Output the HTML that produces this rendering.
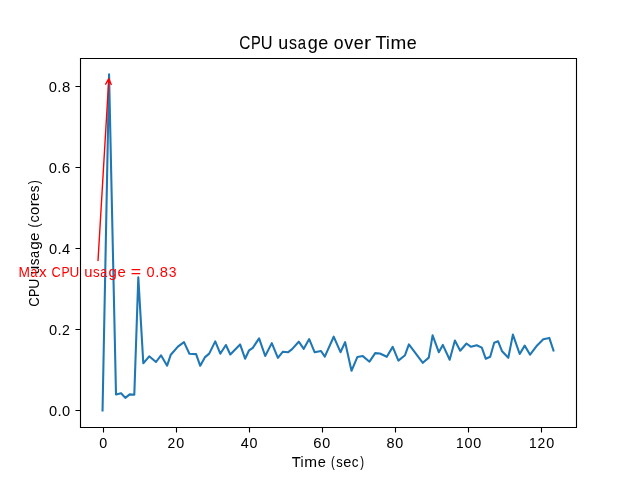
<!DOCTYPE html>
<html><head><meta charset="utf-8"><title>CPU usage over Time</title>
<style>html,body{margin:0;padding:0;background:#fff;overflow:hidden}svg{display:block}text{font-family:"Liberation Sans",sans-serif}</style>
</head><body>
<svg width="640" height="480" viewBox="0 0 640 480">
<rect width="640" height="480" fill="#fff"/>
<polyline points="102.55,410.40 109.06,74.40 116.00,394.50 121.10,393.30 125.30,397.90 129.70,394.40 134.30,394.70 138.30,277.30 143.30,363.30 149.20,356.30 156.00,362.00 161.00,355.30 167.10,365.70 170.80,354.70 177.90,346.60 184.00,342.10 189.40,353.70 196.10,354.10 200.25,365.80 204.80,357.40 209.20,353.60 215.25,341.40 220.30,353.70 225.90,345.00 230.30,354.50 240.10,344.40 245.10,358.70 249.10,350.30 252.80,347.80 259.10,338.30 265.20,356.00 271.80,343.10 277.90,357.80 282.90,351.70 287.90,352.30 292.10,349.10 298.75,341.70 303.75,348.80 309.20,339.10 314.70,352.30 321.00,351.00 324.80,356.60 333.70,336.70 340.50,352.20 345.10,342.10 351.50,370.80 357.30,357.10 362.80,356.10 369.50,361.70 375.20,353.10 379.90,353.50 386.80,356.80 392.70,346.90 398.40,360.60 405.00,355.20 408.90,344.40 422.80,362.80 428.80,357.60 432.60,335.40 438.80,352.20 442.80,344.90 449.70,359.70 454.90,340.60 460.20,350.70 466.50,343.50 471.00,346.80 476.70,345.20 481.80,347.60 485.80,358.80 490.20,356.70 494.20,342.80 498.10,341.30 502.10,351.30 508.30,357.80 512.90,334.60 519.70,354.00 524.70,345.60 530.10,354.70 537.10,345.40 543.30,339.30 549.30,337.90 553.47,350.50" fill="none" stroke="#1f77b4" stroke-width="2.0833" stroke-linejoin="round" stroke-linecap="square"/>
<path d="M80.5 427.5V58.5H576.5V427.5Z" fill="none" stroke="#000" stroke-width="1.1111" stroke-linejoin="miter"/>
<path d="M103.5 427V432.5 M176.5 427V432.5 M249.5 427V432.5 M322.5 427V432.5 M395.5 427V432.5 M468.5 427V432.5 M541.5 427V432.5 M75.5 86.5H81 M75.5 167.5H81 M75.5 248.5H81 M75.5 329.5H81 M75.5 410.5H81" fill="none" stroke="#000" stroke-width="1.1111"/>
<path d="M98.03 260.45L108.80 78.72M105.70 84.11L108.80 78.72L111.25 84.43" fill="none" stroke="#ff0000" stroke-width="1.3889" stroke-linecap="round" stroke-linejoin="round"/>
<defs><filter id="gs" color-interpolation-filters="sRGB"><feOffset dx="0" dy="0"/></filter></defs>
<g filter="url(#gs)">
<text y="49.27" font-size="18.542" fill="rgb(0,0,0)" stroke="rgb(0,0,0)" stroke-width="0.063"><tspan x="239.14" textLength="11.13" lengthAdjust="spacingAndGlyphs">C</tspan><tspan x="251.03" textLength="9.79" lengthAdjust="spacingAndGlyphs">P</tspan><tspan x="260.83" textLength="11.78" lengthAdjust="spacingAndGlyphs">U</tspan> <tspan x="278.36" textLength="9.95" lengthAdjust="spacingAndGlyphs">u</tspan><tspan x="289.11" textLength="7.95" lengthAdjust="spacingAndGlyphs">s</tspan><tspan x="297.69" textLength="8.30" lengthAdjust="spacingAndGlyphs">a</tspan><tspan x="307.68" textLength="10.03" lengthAdjust="spacingAndGlyphs">g</tspan><tspan x="318.24" textLength="9.97" lengthAdjust="spacingAndGlyphs">e</tspan> <tspan x="333.79" textLength="9.81" lengthAdjust="spacingAndGlyphs">o</tspan><tspan x="344.23" textLength="8.95" lengthAdjust="spacingAndGlyphs">v</tspan><tspan x="353.80" textLength="9.97" lengthAdjust="spacingAndGlyphs">e</tspan><tspan x="363.98" textLength="7.08" lengthAdjust="spacingAndGlyphs">r</tspan> <tspan x="375.56" textLength="11.06" lengthAdjust="spacingAndGlyphs">T</tspan><tspan x="386.09" textLength="3.77" lengthAdjust="spacingAndGlyphs">i</tspan><tspan x="390.55" textLength="15.75" lengthAdjust="spacingAndGlyphs">m</tspan><tspan x="406.66" textLength="9.97" lengthAdjust="spacingAndGlyphs">e</tspan></text>
<text y="466.87" font-size="14.549" fill="rgb(0,0,0)" stroke="rgb(0,0,0)" stroke-width="0.034"><tspan x="291.85" textLength="8.99" lengthAdjust="spacingAndGlyphs">T</tspan><tspan x="300.55" textLength="3.06" lengthAdjust="spacingAndGlyphs">i</tspan><tspan x="304.38" textLength="12.81" lengthAdjust="spacingAndGlyphs">m</tspan><tspan x="317.74" textLength="8.11" lengthAdjust="spacingAndGlyphs">e</tspan> <tspan x="330.96" textLength="3.80" lengthAdjust="spacingAndGlyphs">(</tspan><tspan x="336.31" textLength="6.47" lengthAdjust="spacingAndGlyphs">s</tspan><tspan x="343.30" textLength="8.11" lengthAdjust="spacingAndGlyphs">e</tspan><tspan x="351.85" textLength="6.77" lengthAdjust="spacingAndGlyphs">c</tspan><tspan x="360.29" textLength="3.80" lengthAdjust="spacingAndGlyphs">)</tspan></text>
<text y="-0.40" font-size="15.278" fill="rgb(0,0,0)" transform="translate(39.746 242.400) rotate(-90)"><tspan x="-64.45" textLength="9.44" lengthAdjust="spacingAndGlyphs">C</tspan><tspan x="-54.52" textLength="8.31" lengthAdjust="spacingAndGlyphs">P</tspan><tspan x="-46.37" textLength="10.00" lengthAdjust="spacingAndGlyphs">U</tspan> <tspan x="-31.74" textLength="8.45" lengthAdjust="spacingAndGlyphs">u</tspan><tspan x="-22.76" textLength="6.75" lengthAdjust="spacingAndGlyphs">s</tspan><tspan x="-15.61" textLength="7.04" lengthAdjust="spacingAndGlyphs">a</tspan><tspan x="-7.29" textLength="8.51" lengthAdjust="spacingAndGlyphs">g</tspan><tspan x="1.51" textLength="8.46" lengthAdjust="spacingAndGlyphs">e</tspan> <tspan x="14.83" textLength="3.96" lengthAdjust="spacingAndGlyphs">(</tspan><tspan x="19.93" textLength="7.07" lengthAdjust="spacingAndGlyphs">c</tspan><tspan x="27.52" textLength="8.33" lengthAdjust="spacingAndGlyphs">o</tspan><tspan x="35.95" textLength="6.01" lengthAdjust="spacingAndGlyphs">r</tspan><tspan x="41.39" textLength="8.46" lengthAdjust="spacingAndGlyphs">e</tspan><tspan x="50.19" textLength="6.75" lengthAdjust="spacingAndGlyphs">s</tspan><tspan x="58.10" textLength="3.96" lengthAdjust="spacingAndGlyphs">)</tspan></text>
<text y="277.15" font-size="15.451" fill="rgb(255,0,0)"><tspan x="18.50" textLength="11.45" lengthAdjust="spacingAndGlyphs">M</tspan><tspan x="30.53" textLength="6.90" lengthAdjust="spacingAndGlyphs">a</tspan><tspan x="38.95" textLength="7.65" lengthAdjust="spacingAndGlyphs">x</tspan> <tspan x="51.47" textLength="9.24" lengthAdjust="spacingAndGlyphs">C</tspan><tspan x="61.39" textLength="8.13" lengthAdjust="spacingAndGlyphs">P</tspan><tspan x="69.55" textLength="9.79" lengthAdjust="spacingAndGlyphs">U</tspan> <tspan x="84.16" textLength="8.27" lengthAdjust="spacingAndGlyphs">u</tspan><tspan x="93.12" textLength="6.61" lengthAdjust="spacingAndGlyphs">s</tspan><tspan x="100.27" textLength="6.90" lengthAdjust="spacingAndGlyphs">a</tspan><tspan x="108.61" textLength="8.33" lengthAdjust="spacingAndGlyphs">g</tspan><tspan x="117.41" textLength="8.28" lengthAdjust="spacingAndGlyphs">e</tspan> <tspan x="130.82" textLength="10.37" lengthAdjust="spacingAndGlyphs">=</tspan> <tspan x="146.59" textLength="8.08" lengthAdjust="spacingAndGlyphs">0</tspan><tspan x="155.18" textLength="4.15" lengthAdjust="spacingAndGlyphs">.</tspan><tspan x="159.79" textLength="8.17" lengthAdjust="spacingAndGlyphs">8</tspan><tspan x="168.83" textLength="7.76" lengthAdjust="spacingAndGlyphs">3</tspan></text>
<text y="447.88" font-size="14.896" fill="rgb(0,0,0)" stroke="rgb(0,0,0)" stroke-width="0.030"><tspan x="99.35" textLength="7.97" lengthAdjust="spacingAndGlyphs">0</tspan></text>
<text y="447.88" font-size="14.896" fill="rgb(0,0,0)" stroke="rgb(0,0,0)" stroke-width="0.030"><tspan x="167.57" textLength="7.69" lengthAdjust="spacingAndGlyphs">2</tspan><tspan x="176.35" textLength="7.97" lengthAdjust="spacingAndGlyphs">0</tspan></text>
<text y="447.88" font-size="14.896" fill="rgb(0,0,0)" stroke="rgb(0,0,0)" stroke-width="0.030"><tspan x="240.83" textLength="7.98" lengthAdjust="spacingAndGlyphs">4</tspan><tspan x="249.58" textLength="7.97" lengthAdjust="spacingAndGlyphs">0</tspan></text>
<text y="447.88" font-size="14.896" fill="rgb(0,0,0)" stroke="rgb(0,0,0)" stroke-width="0.030"><tspan x="313.32" textLength="8.25" lengthAdjust="spacingAndGlyphs">6</tspan><tspan x="322.21" textLength="7.97" lengthAdjust="spacingAndGlyphs">0</tspan></text>
<text y="447.88" font-size="14.896" fill="rgb(0,0,0)" stroke="rgb(0,0,0)" stroke-width="0.030"><tspan x="386.45" textLength="8.06" lengthAdjust="spacingAndGlyphs">8</tspan><tspan x="395.24" textLength="7.97" lengthAdjust="spacingAndGlyphs">0</tspan></text>
<text y="447.88" font-size="14.896" fill="rgb(0,0,0)" stroke="rgb(0,0,0)" stroke-width="0.030"><tspan x="455.90" textLength="7.65" lengthAdjust="spacingAndGlyphs">1</tspan><tspan x="464.57" textLength="8.01" lengthAdjust="spacingAndGlyphs">0</tspan><tspan x="473.36" textLength="8.01" lengthAdjust="spacingAndGlyphs">0</tspan></text>
<text y="447.88" font-size="14.896" fill="rgb(0,0,0)" stroke="rgb(0,0,0)" stroke-width="0.030"><tspan x="528.88" textLength="7.65" lengthAdjust="spacingAndGlyphs">1</tspan><tspan x="537.51" textLength="7.72" lengthAdjust="spacingAndGlyphs">2</tspan><tspan x="546.34" textLength="8.01" lengthAdjust="spacingAndGlyphs">0</tspan></text>
<text y="415.68" font-size="14.722" fill="rgb(0,0,0)"><tspan x="48.91" textLength="8.14" lengthAdjust="spacingAndGlyphs">0</tspan><tspan x="57.45" textLength="4.17" lengthAdjust="spacingAndGlyphs">.</tspan><tspan x="62.03" textLength="8.14" lengthAdjust="spacingAndGlyphs">0</tspan></text>
<text y="334.68" font-size="14.722" fill="rgb(0,0,0)"><tspan x="48.91" textLength="8.14" lengthAdjust="spacingAndGlyphs">0</tspan><tspan x="57.45" textLength="4.17" lengthAdjust="spacingAndGlyphs">.</tspan><tspan x="62.00" textLength="7.84" lengthAdjust="spacingAndGlyphs">2</tspan></text>
<text y="253.68" font-size="14.722" fill="rgb(0,0,0)"><tspan x="48.91" textLength="8.14" lengthAdjust="spacingAndGlyphs">0</tspan><tspan x="57.45" textLength="4.17" lengthAdjust="spacingAndGlyphs">.</tspan><tspan x="62.03" textLength="8.14" lengthAdjust="spacingAndGlyphs">4</tspan></text>
<text y="172.68" font-size="14.722" fill="rgb(0,0,0)"><tspan x="48.78" textLength="8.19" lengthAdjust="spacingAndGlyphs">0</tspan><tspan x="57.37" textLength="4.20" lengthAdjust="spacingAndGlyphs">.</tspan><tspan x="61.84" textLength="8.47" lengthAdjust="spacingAndGlyphs">6</tspan></text>
<text y="91.68" font-size="14.722" fill="rgb(0,0,0)"><tspan x="48.78" textLength="8.19" lengthAdjust="spacingAndGlyphs">0</tspan><tspan x="57.37" textLength="4.20" lengthAdjust="spacingAndGlyphs">.</tspan><tspan x="61.94" textLength="8.27" lengthAdjust="spacingAndGlyphs">8</tspan></text>
</g>
</svg>
</body></html>
